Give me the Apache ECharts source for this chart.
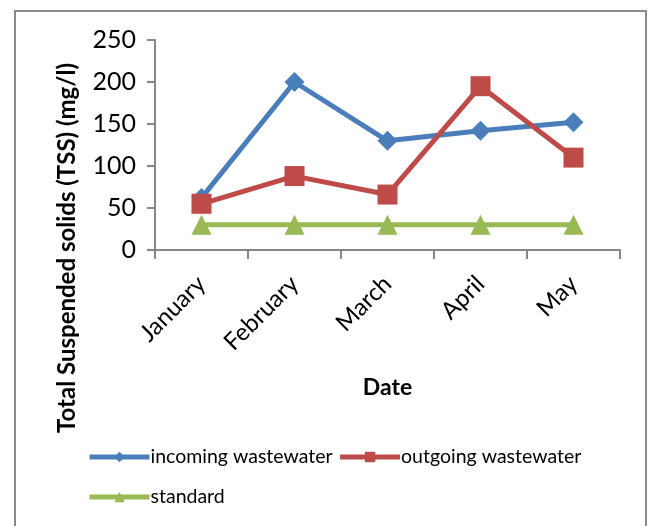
<!DOCTYPE html>
<html>
<head>
<meta charset="utf-8">
<script src="https://cdn.jsdelivr.net/npm/echarts@6/dist/echarts.min.js"></script>
<style>
html, body { margin: 0; padding: 0; background: #fff; }
#main { width: 648px; height: 526px; }
</style>
</head>
<body>
<div id="main"></div>
<script>
var months = ['January', 'February', 'March', 'April', 'May'];
var incoming = [62, 200, 130, 142, 152];
var outgoing = [55, 88, 66, 195, 110];
var standard = [30, 30, 30, 30, 30];
var yTicks = [0, 50, 100, 150, 200, 250];

var FONT = 'Lato';

function initChart() {
	var dom = document.getElementById('main');
	var myChart = echarts.init(dom);
	var legendText = { fontFamily: FONT, fontSize: 19.5, color: '#000', padding: [0, 0, 0, -4] };
	var option = {
		backgroundColor: '#fff',
		animation: false,
		graphic: [{
			type: 'rect',
			shape: { x: 15, y: 11, width: 631, height: 620 },
			style: { fill: 'none', stroke: '#8a8a8a', lineWidth: 2 }
		}, {
			type: 'text',
			x: 67,
			y: 248,
			rotation: Math.PI / 2,
			style: {
				text: 'Total Suspended solids (TSS) (mg/l)',
				font: 'bold 24px ' + FONT,
				fill: '#000',
				align: 'center',
				verticalAlign: 'middle'
			}
		}],
		grid: {
			left: 155,
			top: 40,
			right: 28,
			bottom: 276
		},
		legend: [{
			data: ['incoming wastewater', 'outgoing wastewater'],
			left: 87,
			top: 447,
			padding: 0,
			itemWidth: 60,
			itemHeight: 13,
			itemGap: 5,
			lineStyle: { width: 5 },
			textStyle: legendText
		}, {
			data: ['standard'],
			left: 87,
			top: 487,
			padding: 0,
			itemWidth: 60,
			itemHeight: 13,
			lineStyle: { width: 5 },
			textStyle: legendText
		}],
		xAxis: {
			type: 'category',
			data: months,
			boundaryGap: true,
			name: 'Date',
			nameLocation: 'middle',
			nameGap: 126,
			nameTextStyle: { fontFamily: FONT, fontSize: 23, fontWeight: 'bold', color: '#000' },
			axisLine: { lineStyle: { color: '#868686', width: 2 } },
			axisTick: { show: true, length: 9, alignWithLabel: false, lineStyle: { color: '#868686', width: 2 } },
			axisLabel: {
				rotate: 45,
				interval: 0,
				margin: 30,
				fontFamily: FONT,
				fontSize: 24,
				color: '#000'
			}
		},
		yAxis: {
			type: 'value',
			min: yTicks[0],
			max: yTicks[yTicks.length - 1],
			interval: 50,
			axisLine: { show: true, lineStyle: { color: '#868686', width: 2 } },
			axisTick: { show: true, length: 8, lineStyle: { color: '#868686', width: 2 } },
			splitLine: { show: false },
			axisLabel: {
				margin: 19,
				fontFamily: FONT,
				fontSize: 25,
				color: '#000'
			}
		},
		series: [{
			name: 'incoming wastewater',
			type: 'line',
			data: incoming,
			symbol: 'diamond',
			symbolSize: 20,
			color: '#4a7ebb',
			lineStyle: { width: 5, color: '#4a7ebb' },
			itemStyle: { color: '#4a7ebb' },
			z: 3
		}, {
			name: 'outgoing wastewater',
			type: 'line',
			data: outgoing,
			symbol: 'rect',
			symbolSize: 20,
			color: '#be4b48',
			lineStyle: { width: 5, color: '#be4b48' },
			itemStyle: { color: '#be4b48' },
			z: 4
		}, {
			name: 'standard',
			type: 'line',
			data: standard,
			symbol: 'triangle',
			symbolSize: 20,
			color: '#98b954',
			lineStyle: { width: 5, color: '#98b954' },
			itemStyle: { color: '#98b954' },
			z: 2
		}]
	};
	myChart.setOption(option, true);
}

onload = function() {
	initChart();
};
</script>
</body>
</html>
